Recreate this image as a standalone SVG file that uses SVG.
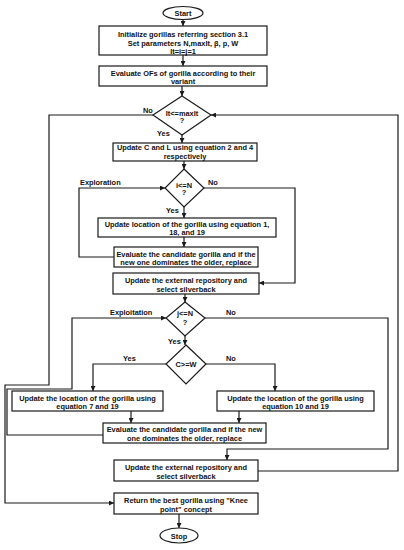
<svg xmlns="http://www.w3.org/2000/svg" width="404" height="550" viewBox="0 0 404 550">
<defs>
<marker id="ah" viewBox="0 0 10 10" refX="10" refY="5" markerWidth="5" markerHeight="5" orient="auto" markerUnits="userSpaceOnUse">
<path d="M0,0 L10,5 L0,10 z" fill="#1a1a1a"/>
</marker>
<style>
.s{fill:#fff;stroke:#1a1a1a;stroke-width:1.2}
.t{font-family:"Liberation Sans",Arial,sans-serif;font-weight:bold;font-size:7.4px;fill:#111;text-anchor:middle}
.l{font-family:"Liberation Sans",Arial,sans-serif;font-weight:bold;font-size:7.4px;fill:#111}
.c{fill:none;stroke:#1a1a1a;stroke-width:1.2;marker-end:url(#ah)}
</style>
</defs>
<rect width="404" height="550" fill="#fff"/>
<g id="connectors">
<path class="c" d="M183,19.5 V26"/>
<path class="c" d="M183,55 V66"/>
<path class="c" d="M182,86 V96"/>
<path class="c" d="M182,135 V143"/>
<path class="c" d="M153,115 H49 V385 H5 V503 H114"/>
<path class="c" d="M258,471 H398 V115 H211"/>
<path class="c" d="M184,161 V169"/>
<path class="c" d="M204,188 H295 V283 H259"/>
<path class="c" d="M184,207 V218"/>
<path class="c" d="M184,237 V247"/>
<path class="c" d="M114,257 H79 V188 H165"/>
<path class="c" d="M185,294 V302"/>
<path class="c" d="M205,318 H388 V449 H227 V460"/>
<path class="c" d="M185,336 V345"/>
<path class="c" d="M166,364 H93 V391"/>
<path class="c" d="M206,364 H275 V391"/>
<path class="c" d="M131,411 V423"/>
<path class="c" d="M239,411 V423"/>
<path class="c" d="M103,435 H7 V389 H72 V318 H166"/>
<path class="c" d="M179,514 V528"/>
</g>
<g id="start"><ellipse class="s" cx="183" cy="13" rx="20" ry="6.5"/><text class="t" x="183" y="15.8">Start</text></g>
<g id="init"><rect class="s" x="99" y="26" width="168" height="29"/>
<text class="t" x="183" y="36.5">Initialize gorillas referring section 3.1</text>
<text class="t" x="183" y="45.5">Set parameters N,maxIt, β, p, W</text>
<text class="t" x="183" y="54">It=i=j=1</text></g>
<g id="evalofs"><rect class="s" x="99" y="66" width="168" height="20"/>
<text class="t" x="183" y="75.5">Evaluate OFs of gorilla according to their</text>
<text class="t" x="183" y="83.5">variant</text></g>
<g id="d1"><polygon class="s" points="182,96 211,115 182,135 153,115"/>
<text class="t" x="182" y="115.5">It&lt;=maxIt</text><text class="t" x="182" y="123">?</text>
<text class="l" x="143" y="112.5">No</text><text class="l" x="157" y="135.5">Yes</text></g>
<g id="updcl"><rect class="s" x="113" y="143" width="144" height="18"/>
<text class="t" x="185" y="150">Update C and L using equation 2 and 4</text>
<text class="t" x="185" y="158.5">respectively</text></g>
<g id="d2"><polygon class="s" points="184,169 204,188 184,207 165,188"/>
<text class="t" x="184" y="187.5">i&lt;=N</text><text class="t" x="184" y="195">?</text>
<text class="l" x="80" y="184.5">Exploration</text><text class="l" x="208" y="184.5">No</text>
<text class="l" x="166" y="212.5">Yes</text></g>
<g id="updloc1"><rect class="s" x="98" y="218" width="178" height="19"/>
<text class="t" x="187" y="226.5">Update location of the gorilla using equation 1,</text>
<text class="t" x="187" y="234.5">18, and 19</text></g>
<g id="eval1"><rect class="s" x="114" y="247" width="144" height="20"/>
<text class="t" x="186" y="256.5">Evaluate the candidate gorilla and if the</text>
<text class="t" x="186" y="265">new one dominates the older, replace</text></g>
<g id="repo1"><rect class="s" x="113" y="273" width="146" height="21"/>
<text class="t" x="186" y="282.5">Update the external repository and</text>
<text class="t" x="186" y="291.5">select silverback</text></g>
<g id="d3"><polygon class="s" points="185,302 205,318 185,336 166,318"/>
<text class="t" x="185" y="315.5">j&lt;=N</text><text class="t" x="185" y="325">?</text>
<text class="l" x="110" y="314.5">Exploitation</text><text class="l" x="226" y="314.5">No</text>
<text class="l" x="168" y="343.5">Yes</text></g>
<g id="d4"><polygon class="s" points="186,345 206,364 186,384 166,364"/>
<text class="t" x="186" y="367">C&gt;=W</text>
<text class="l" x="123" y="360.5">Yes</text><text class="l" x="226" y="360.5">No</text></g>
<g id="locleft"><rect class="s" x="12" y="391" width="151" height="20"/>
<text class="t" x="87.5" y="400.5">Update the location of the gorilla using</text>
<text class="t" x="87.5" y="408.5">equation 7 and 19</text></g>
<g id="locright"><rect class="s" x="217" y="391" width="157" height="20"/>
<text class="t" x="295.5" y="400.5">Update the location of the gorilla using</text>
<text class="t" x="295.5" y="408.5">equation 10 and 19</text></g>
<g id="eval2"><rect class="s" x="103" y="423" width="163" height="20"/>
<text class="t" x="184.5" y="431.5">Evaluate the candidate gorilla and if the new</text>
<text class="t" x="184.5" y="440.5">one dominates the older, replace</text></g>
<g id="repo2"><rect class="s" x="114" y="460" width="144" height="21"/>
<text class="t" x="186" y="469.5">Update the external repository and</text>
<text class="t" x="186" y="478.5">select silverback</text></g>
<g id="ret"><rect class="s" x="114" y="493" width="144" height="21"/>
<text class="t" x="186" y="502.5">Return the best gorilla using "Knee</text>
<text class="t" x="186" y="511.5">point" concept</text></g>
<g id="stop"><ellipse class="s" cx="179" cy="535.5" rx="19" ry="7.5"/><text class="t" x="179" y="538.5">Stop</text></g>
</svg>
